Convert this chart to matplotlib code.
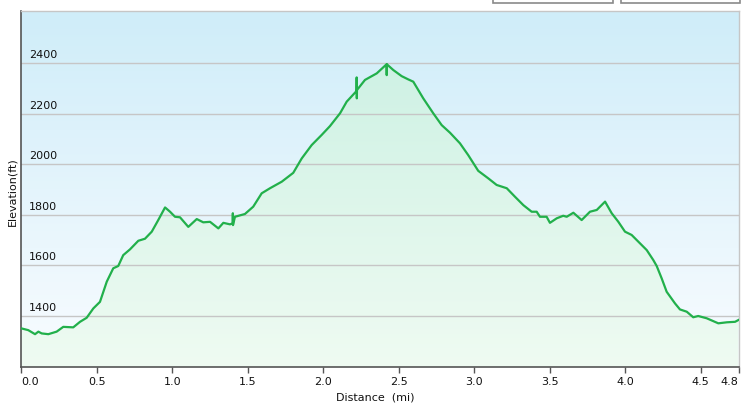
import numpy as np
import matplotlib
matplotlib.use("Agg")
import matplotlib.pyplot as plt
from matplotlib.patches import Polygon, Rectangle
from matplotlib.colors import to_rgb

# distance (mi) and elevation (ft)
dist = [0.0, 0.046, 0.091, 0.113, 0.135, 0.179, 0.234, 0.278, 0.344, 0.389,
        0.433, 0.477, 0.521, 0.566, 0.609, 0.642, 0.675, 0.720, 0.775, 0.819,
        0.864, 0.907, 0.952, 0.985, 1.018, 1.051, 1.106, 1.162, 1.205, 1.250,
        1.305, 1.338, 1.382, 1.400, 1.401, 1.402, 1.415, 1.481, 1.536, 1.592,
        1.647, 1.725, 1.801, 1.857, 1.923, 1.989, 2.044, 2.111, 2.155, 2.220,
        2.221, 2.222, 2.223, 2.276, 2.354, 2.419, 2.420, 2.421, 2.464, 2.519,
        2.563, 2.596, 2.662, 2.728, 2.784, 2.839, 2.905, 2.960, 3.026, 3.093,
        3.148, 3.215, 3.270, 3.325, 3.380, 3.413, 3.435, 3.479, 3.501, 3.546,
        3.589, 3.612, 3.656, 3.711, 3.766, 3.811, 3.866, 3.910, 3.954, 3.998,
        4.042, 4.097, 4.142, 4.185, 4.208, 4.241, 4.274, 4.329, 4.362, 4.407,
        4.450, 4.483, 4.539, 4.616, 4.672, 4.727, 4.749]
elev = [1350, 1343, 1327, 1337, 1330, 1327, 1337, 1356, 1354, 1376,
        1392, 1429, 1455, 1535, 1588, 1597, 1640, 1663, 1697, 1705,
        1733, 1779, 1829, 1812, 1792, 1790, 1752, 1783, 1770, 1772,
        1746, 1768, 1762, 1766, 1806, 1759, 1792, 1803, 1832, 1885,
        1905, 1931, 1966, 2023, 2076, 2116, 2151, 2202, 2248, 2290,
        2344, 2261, 2294, 2334, 2360, 2396, 2353, 2396, 2373, 2349,
        2336, 2327, 2261, 2202, 2155, 2125, 2083, 2036, 1974, 1944,
        1918, 1905, 1871, 1838, 1812, 1812, 1792, 1792, 1768, 1786,
        1796, 1792, 1808, 1779, 1812, 1819, 1852, 1806, 1772, 1733,
        1720, 1687, 1660, 1621, 1597, 1548, 1495, 1449, 1425, 1416,
        1394, 1399, 1390, 1370, 1374, 1376, 1383]

xticks = [0.0, 0.5, 1.0, 1.5, 2.0, 2.5, 3.0, 3.5, 4.0, 4.5, 4.75]
xlabels = ["0.0", "0.5", "1.0", "1.5", "2.0", "2.5", "3.0", "3.5", "4.0", "4.5", "4.8"]
yticks = [1400, 1600, 1800, 2000, 2200, 2400]

ymin, ymax = 1197, 2607
W, H = 746, 408

fig = plt.figure(figsize=(W / 100, H / 100), dpi=100)
ax = fig.add_axes([21.3 / W, (H - 367) / H, (739 - 21.3) / W, (367 - 11) / H])


def vgrad(top, bottom, n=256):
    t = np.linspace(0, 1, n)[:, None]
    a, b = np.array(to_rgb(top)), np.array(to_rgb(bottom))
    return (a * (1 - t) + b * t)[:, None, :].repeat(2, axis=1)


ax.imshow(vgrad("#cfedf9", "#f9fcff"), extent=[0, 1, 0, 1], transform=ax.transAxes,
          aspect="auto", zorder=0)
green = ax.imshow(vgrad("#c9f0e2", "#effbf2"), extent=[0, 1, 0, 1], transform=ax.transAxes,
                  aspect="auto", zorder=1)
verts = list(zip(dist, elev)) + [(dist[-1], ymin), (dist[0], ymin)]
poly = Polygon(verts, closed=True, facecolor="none", edgecolor="none")
ax.add_patch(poly)
green.set_clip_path(poly)

for y in yticks:
    ax.axhline(y, color="#c6c6c6", lw=1.0, zorder=2)
    ax.annotate(str(y), xy=(0, y), xycoords=("axes fraction", "data"),
                xytext=(8, 3), textcoords="offset pixels", ha="left", va="bottom",
                fontsize=8, color="#111111", zorder=4)

ax.plot(dist, elev, color="#22b04b", lw=1.6, zorder=3, solid_joinstyle="round")

ax.set_xlim(0, 4.753)
ax.set_ylim(ymin, ymax)
ax.set_yticks([])
ax.set_xticks(xticks)
ax.set_xticklabels(xlabels, fontsize=8, color="#111111")
ax.tick_params(axis="x", length=4, width=1, color="#555555", pad=3)
labs = ax.get_xticklabels()
labs[0].set_ha("left")
labs[-1].set_ha("right")

for s in ["left", "bottom"]:
    ax.spines[s].set_color("#555555")
    ax.spines[s].set_linewidth(1.2)
for s in ["top", "right"]:
    ax.spines[s].set_color("#c6c6c6")
    ax.spines[s].set_linewidth(1.0)

fig.text(375 / W, 1 - 398 / H, "Distance  (mi)", ha="center", va="center",
         fontsize=8, color="#111111")
fig.text(12 / W, 1 - 192 / H, "Elevation(ft)", rotation=90, ha="center", va="center",
         fontsize=8, color="#111111")

# the two buttons cut off at the top edge
for x0, x1 in [(493, 613), (621, 740)]:
    fig.patches.append(Rectangle((x0 / W, 1 - 2.5 / H), (x1 - x0) / W, 0.1,
                                 transform=fig.transFigure, facecolor="white",
                                 edgecolor="#8a8a8a", lw=1.2))

fig.savefig("out.png", dpi=100)
